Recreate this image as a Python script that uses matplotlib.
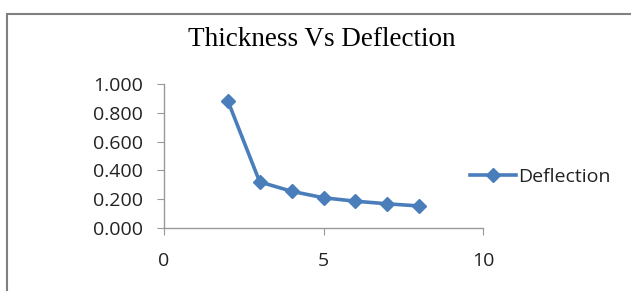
import matplotlib
matplotlib.use("Agg")
import matplotlib.pyplot as plt
from matplotlib.patches import Rectangle
from matplotlib.ticker import FormatStrFormatter

thickness = [2, 3, 4, 5, 6, 7, 8]
deflection = [0.884, 0.32, 0.255, 0.21, 0.186, 0.168, 0.153]
series_name = "Deflection"
title = "Thickness Vs Deflection"
x_ticks = [0, 5, 10]
y_ticks = [0.0, 0.2, 0.4, 0.6, 0.8, 1.0]

fig = plt.figure(figsize=(6.31, 2.91), dpi=100)
fig.patch.set_facecolor("white")
fig.patches.append(Rectangle((7/631, -0.1), 1.0, 1 - 14/291 + 0.1, transform=fig.transFigure,
                             fill=False, edgecolor="#808080", linewidth=1.5))

ax = fig.add_axes([164/631, 1 - 228/291, (483 - 164)/631, (228 - 84)/291])
color = "#4A7EBB"
ax.plot(thickness, deflection, color=color, linewidth=2.6, marker="D", markersize=7.5,
        markerfacecolor=color, markeredgecolor=color, label=series_name)
ax.set_xlim(0, 10)
ax.set_ylim(0, 1.0)
ax.set_xticks(x_ticks)
ax.set_yticks(y_ticks)
ax.yaxis.set_major_formatter(FormatStrFormatter("%.3f"))
for s in ["top", "right"]:
    ax.spines[s].set_visible(False)
for s in ["left", "bottom"]:
    ax.spines[s].set_color("#999999")
    ax.spines[s].set_linewidth(1.0)
ax.tick_params(axis="y", direction="out", length=5, color="#999999", pad=10,
               labelsize=14, labelcolor="#222222")
ax.tick_params(axis="x", direction="out", length=5, color="#999999", pad=12,
               labelsize=14, labelcolor="#222222")
for lab in ax.get_xticklabels() + ax.get_yticklabels():
    lab.set_fontfamily("Open Sans")

fig.text(322/631, 1 - 40/291, title, ha="center", va="center",
         fontfamily="Liberation Serif", fontsize=19.5, color="black")

leg = fig.legend(loc="center left", bbox_to_anchor=(452/631, 1 - 177/291), frameon=False,
                 handlelength=2.4, handletextpad=0.1, prop={"family": "Open Sans", "size": 14})
for t in leg.get_texts():
    t.set_color("#222222")

fig.savefig("out.png", dpi=100)
